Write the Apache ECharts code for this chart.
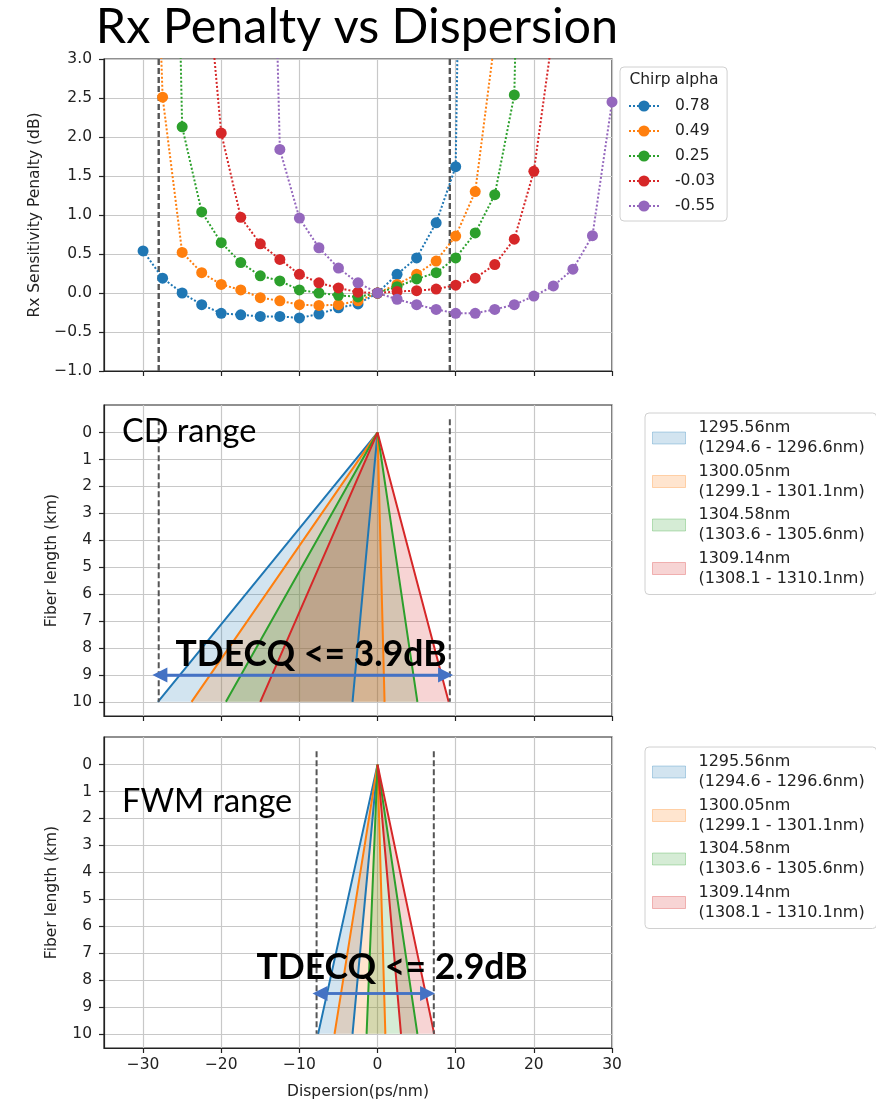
<!DOCTYPE html>
<html>
<head>
<meta charset="utf-8">
<script src="https://cdn.jsdelivr.net/npm/echarts@6/dist/echarts.min.js"></script>
<style>
  html, body { margin: 0; padding: 0; background: #fff; }
  #main { width: 876px; height: 1101px; }
</style>
</head>
<body>
<div id="main"></div>
<script>
// ---- data ----
var dispersion = [-30, -27.5, -25, -22.5, -20, -17.5, -15, -12.5, -10, -7.5, -5, -2.5,
                  0, 2.5, 5, 7.5, 10, 12.5, 15, 17.5, 20, 22.5, 25, 27.5, 30];
var chirpNames = ['0.78', '0.49', '0.25', '-0.03', '-0.55'];
var penalty078 = [0.54, 0.19, 0.00, -0.15, -0.26, -0.28, -0.30, -0.30, -0.32, -0.27, -0.19, -0.14,
                  0.00, 0.24, 0.45, 0.90, 1.62, 18, null, null, null, null, null, null, null];
var penalty049 = [10, 2.51, 0.52, 0.26, 0.11, 0.04, -0.06, -0.10, -0.15, -0.16, -0.15, -0.10,
                  0.00, 0.11, 0.24, 0.41, 0.73, 1.30, 3.25, null, null, null, null, null, null];
var penalty025 = [null, 14, 2.13, 1.04, 0.645, 0.39, 0.22, 0.155, 0.04, 0.00, -0.03, -0.05,
                  0.00, 0.08, 0.18, 0.26, 0.45, 0.77, 1.26, 2.54, 14, null, null, null, null];
var penaltyM003 = [null, null, null, 4.8, 2.05, 0.97, 0.63, 0.43, 0.24, 0.13, 0.065, 0.01,
                   0.00, 0.02, 0.03, 0.05, 0.10, 0.19, 0.365, 0.69, 1.56, 3.38, null, null, null];
var penaltyM055 = [null, null, null, null, null, null, 12, 1.84, 0.96, 0.58, 0.32, 0.13,
                   0.00, -0.08, -0.15, -0.21, -0.26, -0.26, -0.21, -0.15, -0.04, 0.09, 0.305, 0.735, 2.45];
var penalties = [penalty078, penalty049, penalty025, penaltyM003, penaltyM055];

var xTicks = [-30, -20, -10, 0, 10, 20, 30];
var lengthTicks = [0, 1, 2, 3, 4, 5, 6, 7, 8, 9, 10];

var fanNames = ['1295.56nm\n(1294.6 - 1296.6nm)', '1300.05nm\n(1299.1 - 1301.1nm)',
                '1304.58nm\n(1303.6 - 1305.6nm)', '1309.14nm\n(1308.1 - 1310.1nm)'];
var fanLength = 10;
var cdFanEdges = [[-28.1, -3.2], [-23.8, 0.9], [-19.4, 5.1], [-15.0, 9.1]];
var fwmFanEdges = [[-7.6, -3.2], [-5.5, 1.0], [-1.4, 5.1], [3.0, 7.25]];

var cdLimits = [-28, 9.25];
var fwmLimits = [-7.8, 7.2];
var limitSpan = [-0.5, 10];
var cdArrow = [-27.85, 8.7], cdArrowAt = 9;
var fwmArrow = [-7.36, 6.4], fwmArrowAt = 8.5;

// ---- chart ----
var chart = echarts.init(document.getElementById('main'));
var colors = ['#1f77b4', '#ff7f0e', '#2ca02c', '#d62728', '#9467bd'];
var fillColors = ['rgba(31,119,180,0.2)', 'rgba(255,127,14,0.2)', 'rgba(44,160,44,0.2)', 'rgba(214,39,40,0.2)'];
var edgeColors = ['rgba(31,119,180,0.3)', 'rgba(255,127,14,0.3)', 'rgba(44,160,44,0.3)', 'rgba(214,39,40,0.3)'];
var ink = '#222';
var font = 'DejaVu Sans';

function signed(v, digits) {
  var s = Math.abs(v).toFixed(digits);
  return v < 0 ? '\u2212' + s : s;
}

function pairs(xs, ys) {
  var out = [];
  for (var i = 0; i < xs.length; i++) {
    if (ys[i] != null) out.push([xs[i], ys[i]]);
  }
  return out;
}

function xAxisFor(i, last) {
  return {
    type: 'value', gridIndex: i, min: -35, max: 30,
    axisLine: { show: true, onZero: false, lineStyle: { color: ink, width: 1.2 } },
    axisTick: { show: true, customValues: xTicks, length: 5, lineStyle: { color: ink, width: 1.2 } },
    axisLabel: { show: last, customValues: xTicks, margin: 9, fontSize: 15.5, color: ink, fontFamily: font,
                 formatter: function (v) { return signed(v, 0); } },
    splitLine: { show: true, lineStyle: { color: '#c8c8c8', width: 1.2 } },
    name: last ? 'Dispersion(ps/nm)' : '', nameLocation: 'middle', nameGap: 36,
    nameTextStyle: { fontSize: 15.5, color: ink, fontFamily: font }
  };
}

function lengthAxis(i) {
  return {
    type: 'value', gridIndex: i, inverse: true, min: -1.025, max: 10.525,
    axisLine: { show: true, onZero: false, lineStyle: { color: ink, width: 1.2 } },
    axisTick: { show: true, customValues: lengthTicks, length: 5, lineStyle: { color: ink, width: 1.2 } },
    axisLabel: { customValues: lengthTicks, margin: 12, fontSize: 15.5, color: ink, fontFamily: font },
    splitLine: { show: true, lineStyle: { color: '#c8c8c8', width: 1.2 } },
    name: 'Fiber length (km)', nameLocation: 'middle', nameGap: 44,
    nameTextStyle: { fontSize: 15.5, color: ink, fontFamily: font }
  };
}

// translucent wedge between the two edges of one wavelength band
function fanFill(edges, gi, k) {
  return {
    type: 'custom', name: fanNames[k], xAxisIndex: gi, yAxisIndex: gi, silent: true,
    data: [[edges[k][0], edges[k][1], fanLength]],
    encode: { x: [0, 1], y: 2 },
    renderItem: function (params, api) {
      var apex = api.coord([0, 0]);
      var left = api.coord([api.value(0), api.value(2)]);
      var right = api.coord([api.value(1), api.value(2)]);
      return { type: 'polygon', shape: { points: [apex, left, right] }, style: { fill: fillColors[k] } };
    }
  };
}

// solid edges of the band, drawn after all fills
function fanEdge(edges, gi, k) {
  return {
    type: 'line', xAxisIndex: gi, yAxisIndex: gi, symbol: 'none', silent: true,
    data: [[edges[k][0], fanLength], [0, 0], [edges[k][1], fanLength]],
    lineStyle: { color: colors[k], width: 2 }
  };
}

function limitSeries(x, gi, y0, y1, w) {
  return {
    type: 'line', xAxisIndex: gi, yAxisIndex: gi, symbol: 'none', silent: true,
    data: [[x, y0], [x, y1]],
    lineStyle: { color: '#555', width: w, type: [6, 3] }
  };
}

function arrowSeries(xs, y, gi) {
  return {
    type: 'line', xAxisIndex: gi, yAxisIndex: gi, symbol: 'none', silent: true,
    data: [[xs[0], y], [xs[1], y]],
    lineStyle: { color: '#4472c4', width: 2.5 },
    markLine: {
      silent: true, symbol: ['triangle', 'triangle'], symbolSize: [15, 15],
      label: { show: false },
      lineStyle: { color: '#4472c4', width: 2.5, type: 'solid' },
      data: [[{ coord: [xs[0], y] }, { coord: [xs[1], y] }]]
    }
  };
}

var series = [];
series.push(limitSeries(cdLimits[0], 0, -1, 3, 2.4));
series.push(limitSeries(cdLimits[1], 0, -1, 3, 2.4));
penalties.forEach(function (vals, k) {
  series.push({
    type: 'line', name: chirpNames[k], xAxisIndex: 0, yAxisIndex: 0,
    data: pairs(dispersion, vals), clip: true,
    symbol: 'circle', symbolSize: 11, showAllSymbol: true,
    itemStyle: { color: colors[k] },
    lineStyle: { color: colors[k], width: 2, type: 'dotted' }
  });
});
[0, 1, 2, 3].forEach(function (k) { series.push(fanFill(cdFanEdges, 1, k)); });
[0, 1, 2, 3].forEach(function (k) { series.push(fanEdge(cdFanEdges, 1, k)); });
series.push(limitSeries(cdLimits[0], 1, limitSpan[0], limitSpan[1], 2));
series.push(limitSeries(cdLimits[1], 1, limitSpan[0], limitSpan[1], 2));
series.push(arrowSeries(cdArrow, cdArrowAt, 1));
[0, 1, 2, 3].forEach(function (k) { series.push(fanFill(fwmFanEdges, 2, k)); });
[0, 1, 2, 3].forEach(function (k) { series.push(fanEdge(fwmFanEdges, 2, k)); });
series.push(limitSeries(fwmLimits[0], 2, limitSpan[0], limitSpan[1], 2));
series.push(limitSeries(fwmLimits[1], 2, limitSpan[0], limitSpan[1], 2));
series.push(arrowSeries(fwmArrow, fwmArrowAt, 2));

function fanLegend(top) {
  return {
    left: 645, top: top, orient: 'vertical', icon: 'rect',
    itemWidth: 33, itemHeight: 12, itemGap: 3.5,
    padding: [5, 12, 6, 7],
    borderColor: '#d0d0d0', borderWidth: 1, borderRadius: 4, backgroundColor: '#fff',
    textStyle: { fontSize: 16, lineHeight: 20, color: ink, fontFamily: font, padding: [0, 0, 0, 8] },
    selectedMode: false,
    data: fanNames.map(function (n, k) {
      return { name: n, itemStyle: { color: fillColors[k], borderColor: edgeColors[k], borderWidth: 1 } };
    })
  };
}

var option = {
  animation: false,
  backgroundColor: '#fff',
  grid: [
    { left: 104, top: 59, width: 508, height: 312, show: true, borderColor: ink, borderWidth: 1.2 },
    { left: 104, top: 405, width: 508, height: 311, show: true, borderColor: ink, borderWidth: 1.2 },
    { left: 104, top: 737, width: 508, height: 311, show: true, borderColor: ink, borderWidth: 1.2 }
  ],
  xAxis: [xAxisFor(0, false), xAxisFor(1, false), xAxisFor(2, true)],
  yAxis: [
    {
      type: 'value', gridIndex: 0, min: -1, max: 3, interval: 0.5,
      axisLine: { show: true, onZero: false, lineStyle: { color: ink, width: 1.2 } },
      axisTick: { show: true, length: 5, lineStyle: { color: ink, width: 1.2 } },
      axisLabel: { margin: 12, fontSize: 15.5, color: ink, fontFamily: font,
                   formatter: function (v) { return signed(v, 1); } },
      splitLine: { show: true, lineStyle: { color: '#c8c8c8', width: 1.2 } },
      name: 'Rx Sensitivity Penalty (dB)', nameLocation: 'middle', nameGap: 61,
      nameTextStyle: { fontSize: 15.5, color: ink, fontFamily: font }
    },
    lengthAxis(1),
    lengthAxis(2)
  ],
  legend: [
    {
      left: 620, top: 67, orient: 'vertical',
      itemWidth: 30, itemHeight: 14, itemGap: 9,
      padding: [31, 12, 7, 8],
      borderColor: '#d0d0d0', borderWidth: 1, borderRadius: 4, backgroundColor: '#fff',
      textStyle: { fontSize: 15.5, lineHeight: 16, color: ink, fontFamily: font, padding: [0, 0, 0, 11] },
      selectedMode: false,
      data: chirpNames
    },
    fanLegend(413),
    fanLegend(747)
  ],
  graphic: [
    { type: 'text', z: 100, style: { text: 'Rx Penalty vs Dispersion', x: 357, y: 27, textAlign: 'center',
      textVerticalAlign: 'middle', font: '48.5px Lato', fill: '#000' } },
    { type: 'text', z: 100, style: { text: 'Chirp alpha', x: 674, y: 80, textAlign: 'center',
      textVerticalAlign: 'middle', font: '15.5px "DejaVu Sans"', fill: ink } },
    { type: 'text', z: 100, style: { text: 'CD range', x: 122, y: 432, textAlign: 'left',
      textVerticalAlign: 'middle', font: '32.5px Lato', fill: '#000' } },
    { type: 'text', z: 100, style: { text: 'FWM range', x: 122, y: 802, textAlign: 'left',
      textVerticalAlign: 'middle', font: '32.5px Lato', fill: '#000' } },
    { type: 'text', z: 100, style: { text: 'TDECQ <= 3.9dB', x: 311, y: 655, textAlign: 'center',
      textVerticalAlign: 'middle', font: 'bold 35.5px Lato', fill: '#000' } },
    { type: 'text', z: 100, style: { text: 'TDECQ <= 2.9dB', x: 392, y: 968, textAlign: 'center',
      textVerticalAlign: 'middle', font: 'bold 35.5px Lato', fill: '#000' } }
  ],
  series: series
};

chart.setOption(option);
window.onresize = chart.resize;
</script>
</body>
</html>
